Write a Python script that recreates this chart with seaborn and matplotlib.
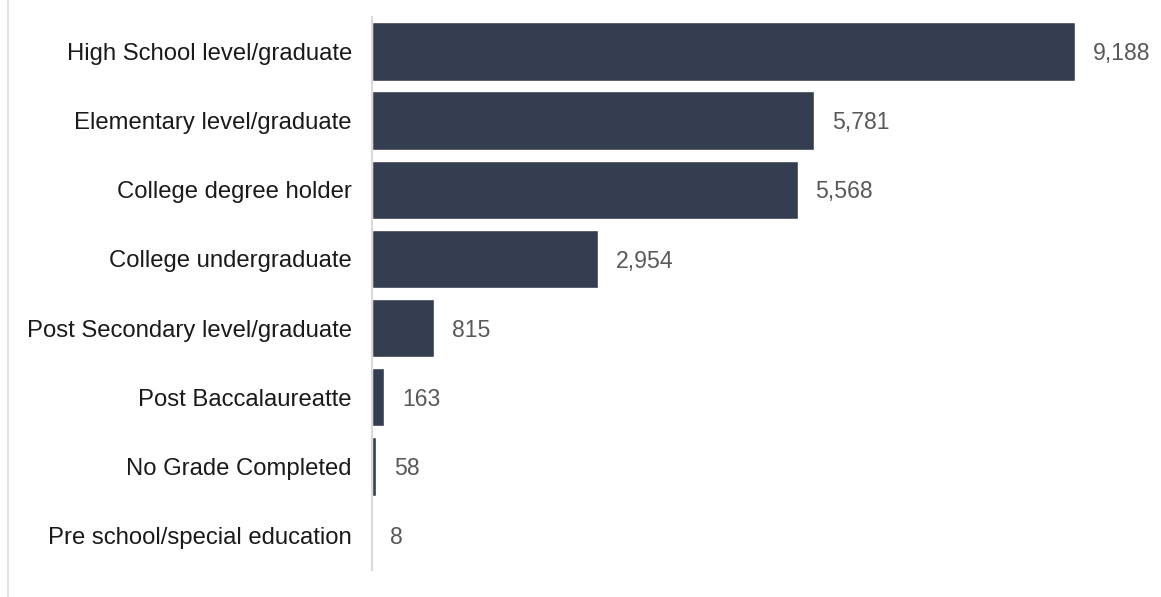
import matplotlib
matplotlib.use("Agg")
import matplotlib.pyplot as plt
import seaborn as sns
import pandas as pd
from matplotlib.lines import Line2D

categories = [
    "High School level/graduate",
    "Elementary level/graduate",
    "College degree holder",
    "College undergraduate",
    "Post Secondary level/graduate",
    "Post Baccalaureatte",
    "No Grade Completed",
    "Pre school/special education",
]
values = [9188, 5781, 5568, 2954, 815, 163, 58, 8]

sns.set_theme(style="white")
plt.rcParams["font.family"] = ["Liberation Sans", "DejaVu Sans"]

df = pd.DataFrame({"category": categories, "value": values})

W, H = 1161, 597
fig = plt.figure(figsize=(W / 100, H / 100), dpi=100)
ax = fig.add_axes([372 / W, 1 - 570 / H, (1150 - 372) / W, (570 - 17) / H])

sns.barplot(data=df, x="value", y="category", orient="h", color="#343e50",
            width=0.845, saturation=1, ax=ax)

ax.set_xlim(0, 10168)
ax.set_ylim(7.5, -0.5)
ax.set_xlabel("")
ax.set_ylabel("")
ax.set_xticks([])
for s in ["top", "right", "bottom"]:
    ax.spines[s].set_visible(False)
ax.spines["left"].set_color("#d9d9d9")
ax.spines["left"].set_linewidth(1.5)
ax.tick_params(axis="y", length=0, pad=14.5, labelsize=17.2, labelcolor="#1a1a1a")

for i, v in enumerate(values):
    ax.annotate(f"{v:,}", xy=(v, i), xytext=(12.5, -1.5), textcoords="offset points",
                va="center", ha="left", fontsize=16.6, color="#595959")

fig.add_artist(Line2D([7.5 / W, 7.5 / W], [0, 1], transform=fig.transFigure,
                      color="#dddddd", linewidth=1.2))

fig.savefig("out.png", dpi=100, facecolor="white")
